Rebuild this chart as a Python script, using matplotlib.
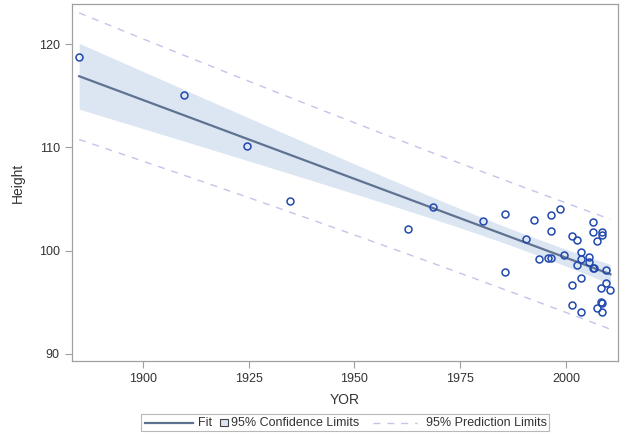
import numpy as np
import matplotlib.pyplot as plt
from matplotlib.patches import Rectangle
from matplotlib.lines import Line2D

plt.rcParams["font.family"] = ["Liberation Sans", "DejaVu Sans"]

# observed data (YOR, Height)
yor = [1884.9, 1909.8, 1924.7, 1934.7, 1962.6, 1968.6, 1980.5,
       1985.6, 1985.6, 1992.5, 1996.5, 1998.7, 1996.5, 1990.5,
       1993.7, 1995.7, 1996.5, 1999.6, 2001.5, 2002.6, 2006.5,
       2006.5, 2008.4, 2008.5, 2007.4, 2003.5, 2003.5, 2002.6,
       2005.5, 2005.5, 2006.5, 2006.6, 2009.4, 2003.5, 2001.5,
       2009.4, 2008.3, 2010.5, 2001.5, 2003.5, 2008.3, 2008.5,
       2007.4, 2008.5]
height = [118.8, 115.1, 110.1, 104.8, 102.1, 104.2, 102.9,
          103.5, 97.9, 103.0, 103.4, 104.0, 101.9, 101.1,
          99.2, 99.3, 99.3, 99.6, 101.4, 101.0, 102.8,
          101.8, 101.8, 101.5, 100.9, 99.9, 99.2, 98.6,
          99.4, 98.9, 98.3, 98.3, 98.1, 97.3, 96.7,
          96.9, 96.4, 96.2, 94.7, 94.0, 95.0, 94.9,
          94.4, 94.0]

x_ticks = [1900, 1925, 1950, 1975, 2000]
y_ticks = [90, 100, 110, 120]
legend_labels = ["Fit", "95% Confidence Limits", "95% Prediction Limits"]

FIT_COLOR = "#5F7290"
BAND_COLOR = "#DCE5F2"
MARKER_COLOR = "#2148AE"
PRED_COLOR = "#C2C4EA"
FRAME_COLOR = "#A0A0A0"
TEXT_COLOR = "#333333"
W, H = 623, 437


def regression_bands(x, y, xg):
    x = np.asarray(x)
    y = np.asarray(y)
    n = len(x)
    b1, b0 = np.polyfit(x, y, 1)
    resid = y - (b0 + b1 * x)
    s = np.sqrt(np.sum(resid ** 2) / (n - 2))
    sxx = np.sum((x - x.mean()) ** 2)
    t = 2.018  # t(0.975, n-2)
    fit = b0 + b1 * xg
    se_mean = s * np.sqrt(1 / n + (xg - x.mean()) ** 2 / sxx)
    se_pred = s * np.sqrt(1 + 1 / n + (xg - x.mean()) ** 2 / sxx)
    return fit, t * se_mean, t * se_pred


def fx(px):
    return px / W


def fy(py):
    return 1 - py / H


xg = np.linspace(min(yor), max(yor), 200)
fit, ci, pi = regression_bands(yor, height, xg)

fig = plt.figure(figsize=(6.23, 4.37), dpi=100)
ax = fig.add_axes([0.1148, 0.174, 0.8765, 0.817])

ax.fill_between(xg, fit - ci, fit + ci, color=BAND_COLOR, lw=0, zorder=1)
ax.plot(xg, fit + pi, color=PRED_COLOR, lw=1, ls=(0, (5, 5)), zorder=2)
ax.plot(xg, fit - pi, color=PRED_COLOR, lw=1, ls=(0, (5, 5)), zorder=2)
ax.plot(xg, fit, color=FIT_COLOR, lw=1.6, zorder=3)
ax.plot(yor, height, ls="none", marker="o", ms=5, mfc="none",
        mec=MARKER_COLOR, mew=1.1, zorder=4)

ax.set_xlim(1883.1, 2012.2)
ax.set_ylim(89.3, 123.9)
ax.set_xticks(x_ticks)
ax.set_yticks(y_ticks)
ax.tick_params(colors=FRAME_COLOR, labelcolor=TEXT_COLOR, labelsize=9,
               length=5, width=0.8)
for sp in ax.spines.values():
    sp.set_color(FRAME_COLOR)
    sp.set_linewidth(0.9)

ax.set_xlabel("YOR", fontsize=10, color=TEXT_COLOR, labelpad=6)
ax.set_ylabel("Height", fontsize=10, color=TEXT_COLOR, labelpad=10)

# legend drawn by hand, SAS style (short square for the band)
y_leg = 422.5
fig.add_artist(Rectangle((fx(140.7), fy(431)), fx(549) - fx(140.7),
                         fy(414) - fy(431), transform=fig.transFigure,
                         facecolor="white", edgecolor="#B8B8B8", lw=0.8))
fig.add_artist(Line2D([fx(145), fx(193)], [fy(y_leg), fy(y_leg)],
                      transform=fig.transFigure, color=FIT_COLOR, lw=1.6))
fig.text(fx(198), fy(y_leg), legend_labels[0], fontsize=9,
         color=TEXT_COLOR, ha="left", va="center")
fig.add_artist(Rectangle((fx(220.5), fy(y_leg + 3.5)), 7 / W, 7 / H,
                         transform=fig.transFigure, facecolor=BAND_COLOR,
                         edgecolor="#444444", lw=0.8))
fig.text(fx(230.5), fy(y_leg), legend_labels[1], fontsize=9,
         color=TEXT_COLOR, ha="left", va="center")
fig.add_artist(Line2D([fx(373), fx(417)], [fy(y_leg), fy(y_leg)],
                      transform=fig.transFigure, color=PRED_COLOR, lw=1,
                      ls=(0, (5, 5))))
fig.text(fx(426), fy(y_leg), legend_labels[2], fontsize=9,
         color=TEXT_COLOR, ha="left", va="center")

fig.savefig("out.png", dpi=100)
